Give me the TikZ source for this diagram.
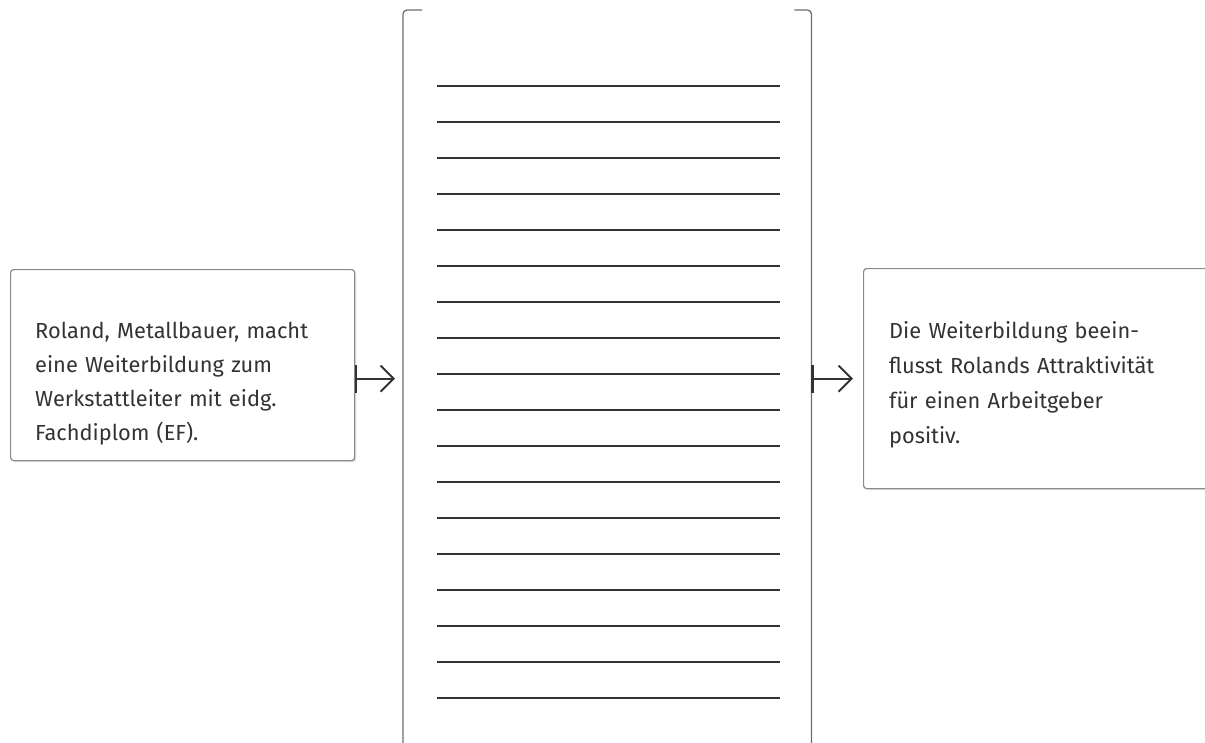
\documentclass[tikz,border=0pt]{standalone}
\usepackage{fontspec}
\setmainfont{Fira Sans}
\usetikzlibrary{arrows.meta,shadows}

\definecolor{rand}{HTML}{8A8A8A}
\definecolor{tinte}{HTML}{333333}

\tikzset{
  kasten/.style={draw=rand, line width=1.2pt, rounded corners=3pt, fill=white,
    drop shadow={shadow xshift=1.5pt, shadow yshift=-1.5pt, opacity=.15, fill=black},
    anchor=north west, inner sep=0pt},
  satz/.style={anchor=base west, align=left, text width=330pt, inner sep=0pt,
    text=tinte, font=\fontsize{21.8}{34}\selectfont},
  pfeil/.style={line width=2pt, draw=tinte,
    {Bar[width=28pt,line width=2.2pt]}-{Straight Barb[length=13pt,width=26pt,line width=2pt]}},
  zeile/.style={line width=1.1pt, draw=tinte},
  blattrand/.style={draw=rand!80!black, line width=1.3pt, rounded corners=4pt}
}

\begin{document}
\begin{tikzpicture}[x=1pt,y=-1pt]
	\useasboundingbox (0,0) rectangle (1205,742);
	\clip (0,0) rectangle (1205,742);

	\node[kasten, minimum width=344pt, minimum height=191pt] (roland) at (10,269) {};
	\node[satz] (rolandtext) at (35,338) {Roland, Metallbauer, macht\\eine Weiterbildung zum\\Werkstattleiter mit eidg.\\Fachdiplom (EF).};

	\node[kasten, minimum width=380pt, minimum height=220pt] (wirkung) at (863,268) {};
	\node[satz, font=\fontsize{21.8}{35}\selectfont] (wirkungtext) at (889,338) {Die Weiterbildung beein-\\flusst Rolands Attraktivit\"at\\f\"ur einen Arbeitgeber\\positiv.};

	% mittleres Blatt mit Schreiblinien
	\node[minimum width=408pt, minimum height=760pt, anchor=north west, inner sep=0pt] (blatt) at (403,10) {};
	\draw[blattrand] ([xshift=19pt]blatt.north west) -- (blatt.north west) -- (blatt.south west);
	\draw[blattrand] ([xshift=-17pt]blatt.north east) -- (blatt.north east) -- (blatt.south east);
	\foreach \i in {0,...,17}
		\draw[zeile] ([shift={(34,76+36*\i)}]blatt.north west) -- ++(343,0);

	\draw[pfeil, shorten >=8pt] ([yshift=-13.5pt]roland.east) -- ([yshift=-13.5pt]roland.east -| blatt.west);
	\draw[pfeil, shorten >=10pt] (wirkung.west -| blatt.east) -- (wirkung.west);
\end{tikzpicture}
\end{document}
